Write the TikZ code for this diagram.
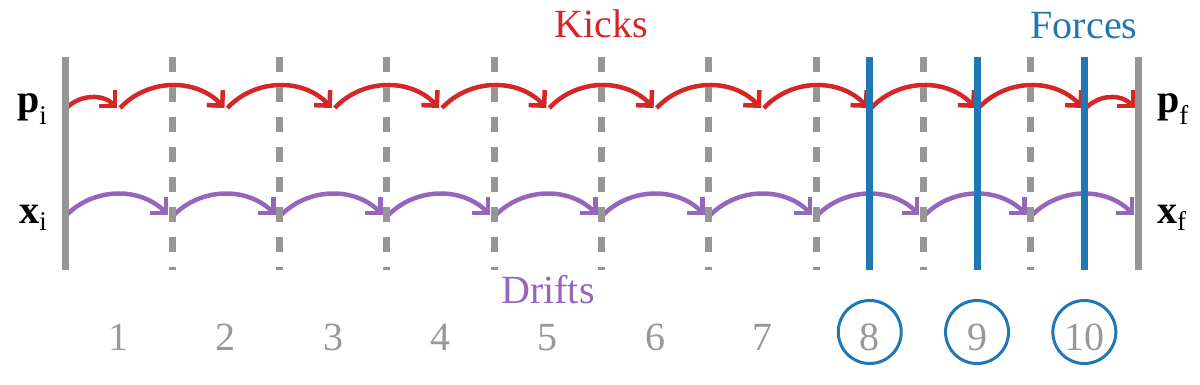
\documentclass[tikz,border=0pt]{standalone}
\usepackage{fontspec}
\usepackage{graphicx}
\setmainfont{Liberation Serif}
\usetikzlibrary{arrows.meta}
\definecolor{kred}{HTML}{D62728}
\definecolor{fblue}{HTML}{1F77B4}
\definecolor{dpurple}{HTML}{9467BD}
\definecolor{lgray}{HTML}{969696}
\definecolor{ngray}{HTML}{999999}
\newcommand{\bigtxt}[1]{\scalebox{2}{\fontsize{20}{24}\selectfont #1}}
\begin{document}
\begin{tikzpicture}[x=1pt,y=-1pt,
  big/.style={font=\fontsize{40}{48}\selectfont, inner sep=0pt},
  numlbl/.style={big, text=ngray, anchor=base},
  solidline/.style={draw=lgray, line width=7pt},
  dashline/.style={draw=lgray, line width=7pt, dash pattern=on 15pt off 15pt},
  forceline/.style={draw=fblue, line width=7pt},
  kickarc/.style={draw=kred, line width=4.5pt, -{Straight Barb[length=11pt,width=22pt]}},
  driftarc/.style={draw=dpurple, line width=4.5pt, -{Straight Barb[length=11pt,width=22pt]}},
  ring/.style={draw=fblue, line width=3pt, circle, minimum size=63pt, inner sep=0pt}
]
\useasboundingbox (0,0) rectangle (1200,384);

% grid coordinates
\foreach \k in {0,...,10}{
  \pgfmathsetmacro{\xb}{65+107.3*\k}
  \coordinate (t\k) at (\xb,57);
  \coordinate (b\k) at (\xb,270);
}
\foreach \k in {1,...,10}{
  \pgfmathsetmacro{\xm}{65+107.3*(\k-0.5)}
  \coordinate (m\k) at (\xm,57);
  \coordinate (mb\k) at (\xm,270);
}

% kick arc end points (p row)
\coordinate (ks0) at (66.5,108);
\foreach \k in {1,...,10}{
  \pgfmathsetmacro{\xm}{65+107.3*(\k-0.5)}
  \coordinate (ks\k) at (\xm+1.5,108);
  \coordinate (ke\the\numexpr\k-1\relax) at (\xm-1.5,108);
}
\coordinate (ke10) at (1135,108);

% drift arc end points (x row)
\foreach \k in {0,...,9}{
  \pgfmathsetmacro{\xs}{65+107.3*\k+1.5}
  \pgfmathsetmacro{\xe}{65+107.3*(\k+1)-4}
  \coordinate (ds\k) at (\xs,215);
  \coordinate (de\k) at (\xe,215);
}

% kicks
\draw[kickarc] (ks0) .. controls +(14,-14) and +(-14,-14) .. (ke0);
\foreach \k in {1,...,9}{
  \draw[kickarc] (ks\k) .. controls +(28,-30) and +(-28,-30) .. (ke\k);
}
\draw[kickarc] (ks10) .. controls +(14,-14) and +(-14,-14) .. (ke10);

% drifts
\foreach \k in {0,...,9}{
  \draw[driftarc] (ds\k) .. controls +(28,-28) and +(-28,-28) .. (de\k);
}

% vertical lines
\draw[solidline] (t0) -- (b0);
\draw[solidline] (t10) -- (b10);
\foreach \k in {1,...,9}{
  \draw[dashline] (t\k) -- (b\k);
}
\foreach \k in {8,9,10}{
  \draw[forceline] (m\k) -- (mb\k);
}

% titles
\node[big, text=kred, anchor=base] (kicks) at (601,37) {\bigtxt{Kicks}};
\node[big, text=fblue, anchor=base] (forces) at (1084,38) {\bigtxt{Forces}};
\node[big, text=dpurple, anchor=base] (drifts) at (548,303) {\bigtxt{Drifts}};

% side labels
\node[big, anchor=base east] (pi) at (47,112) {\bigtxt{\textbf{p}}\raisebox{-12pt}{\fontsize{27}{30}\selectfont i}};
\node[big, anchor=base east] (xi) at (47,223) {\bigtxt{\textbf{x}}\raisebox{-7pt}{\fontsize{27}{30}\selectfont i}};
\node[big, anchor=base west] (pf) at (1157,112) {\bigtxt{\textbf{p}}\raisebox{-12pt}{\fontsize{27}{30}\selectfont f}};
\node[big, anchor=base west] (xf) at (1157,223) {\bigtxt{\textbf{x}}\raisebox{-7pt}{\fontsize{27}{30}\selectfont f}};

% step numbers
\foreach \k in {1,...,10}{
  \pgfmathsetmacro{\xm}{65+107.3*(\k-0.5)}
  \node[numlbl] (n\k) at (\xm,350.5) {\bigtxt{\k}};
}
\foreach \k in {8,9,10}{
  \pgfmathsetmacro{\xm}{65+107.3*(\k-0.5)}
  \node[ring] (c\k) at (\xm,332) {};
}
\end{tikzpicture}
\end{document}
